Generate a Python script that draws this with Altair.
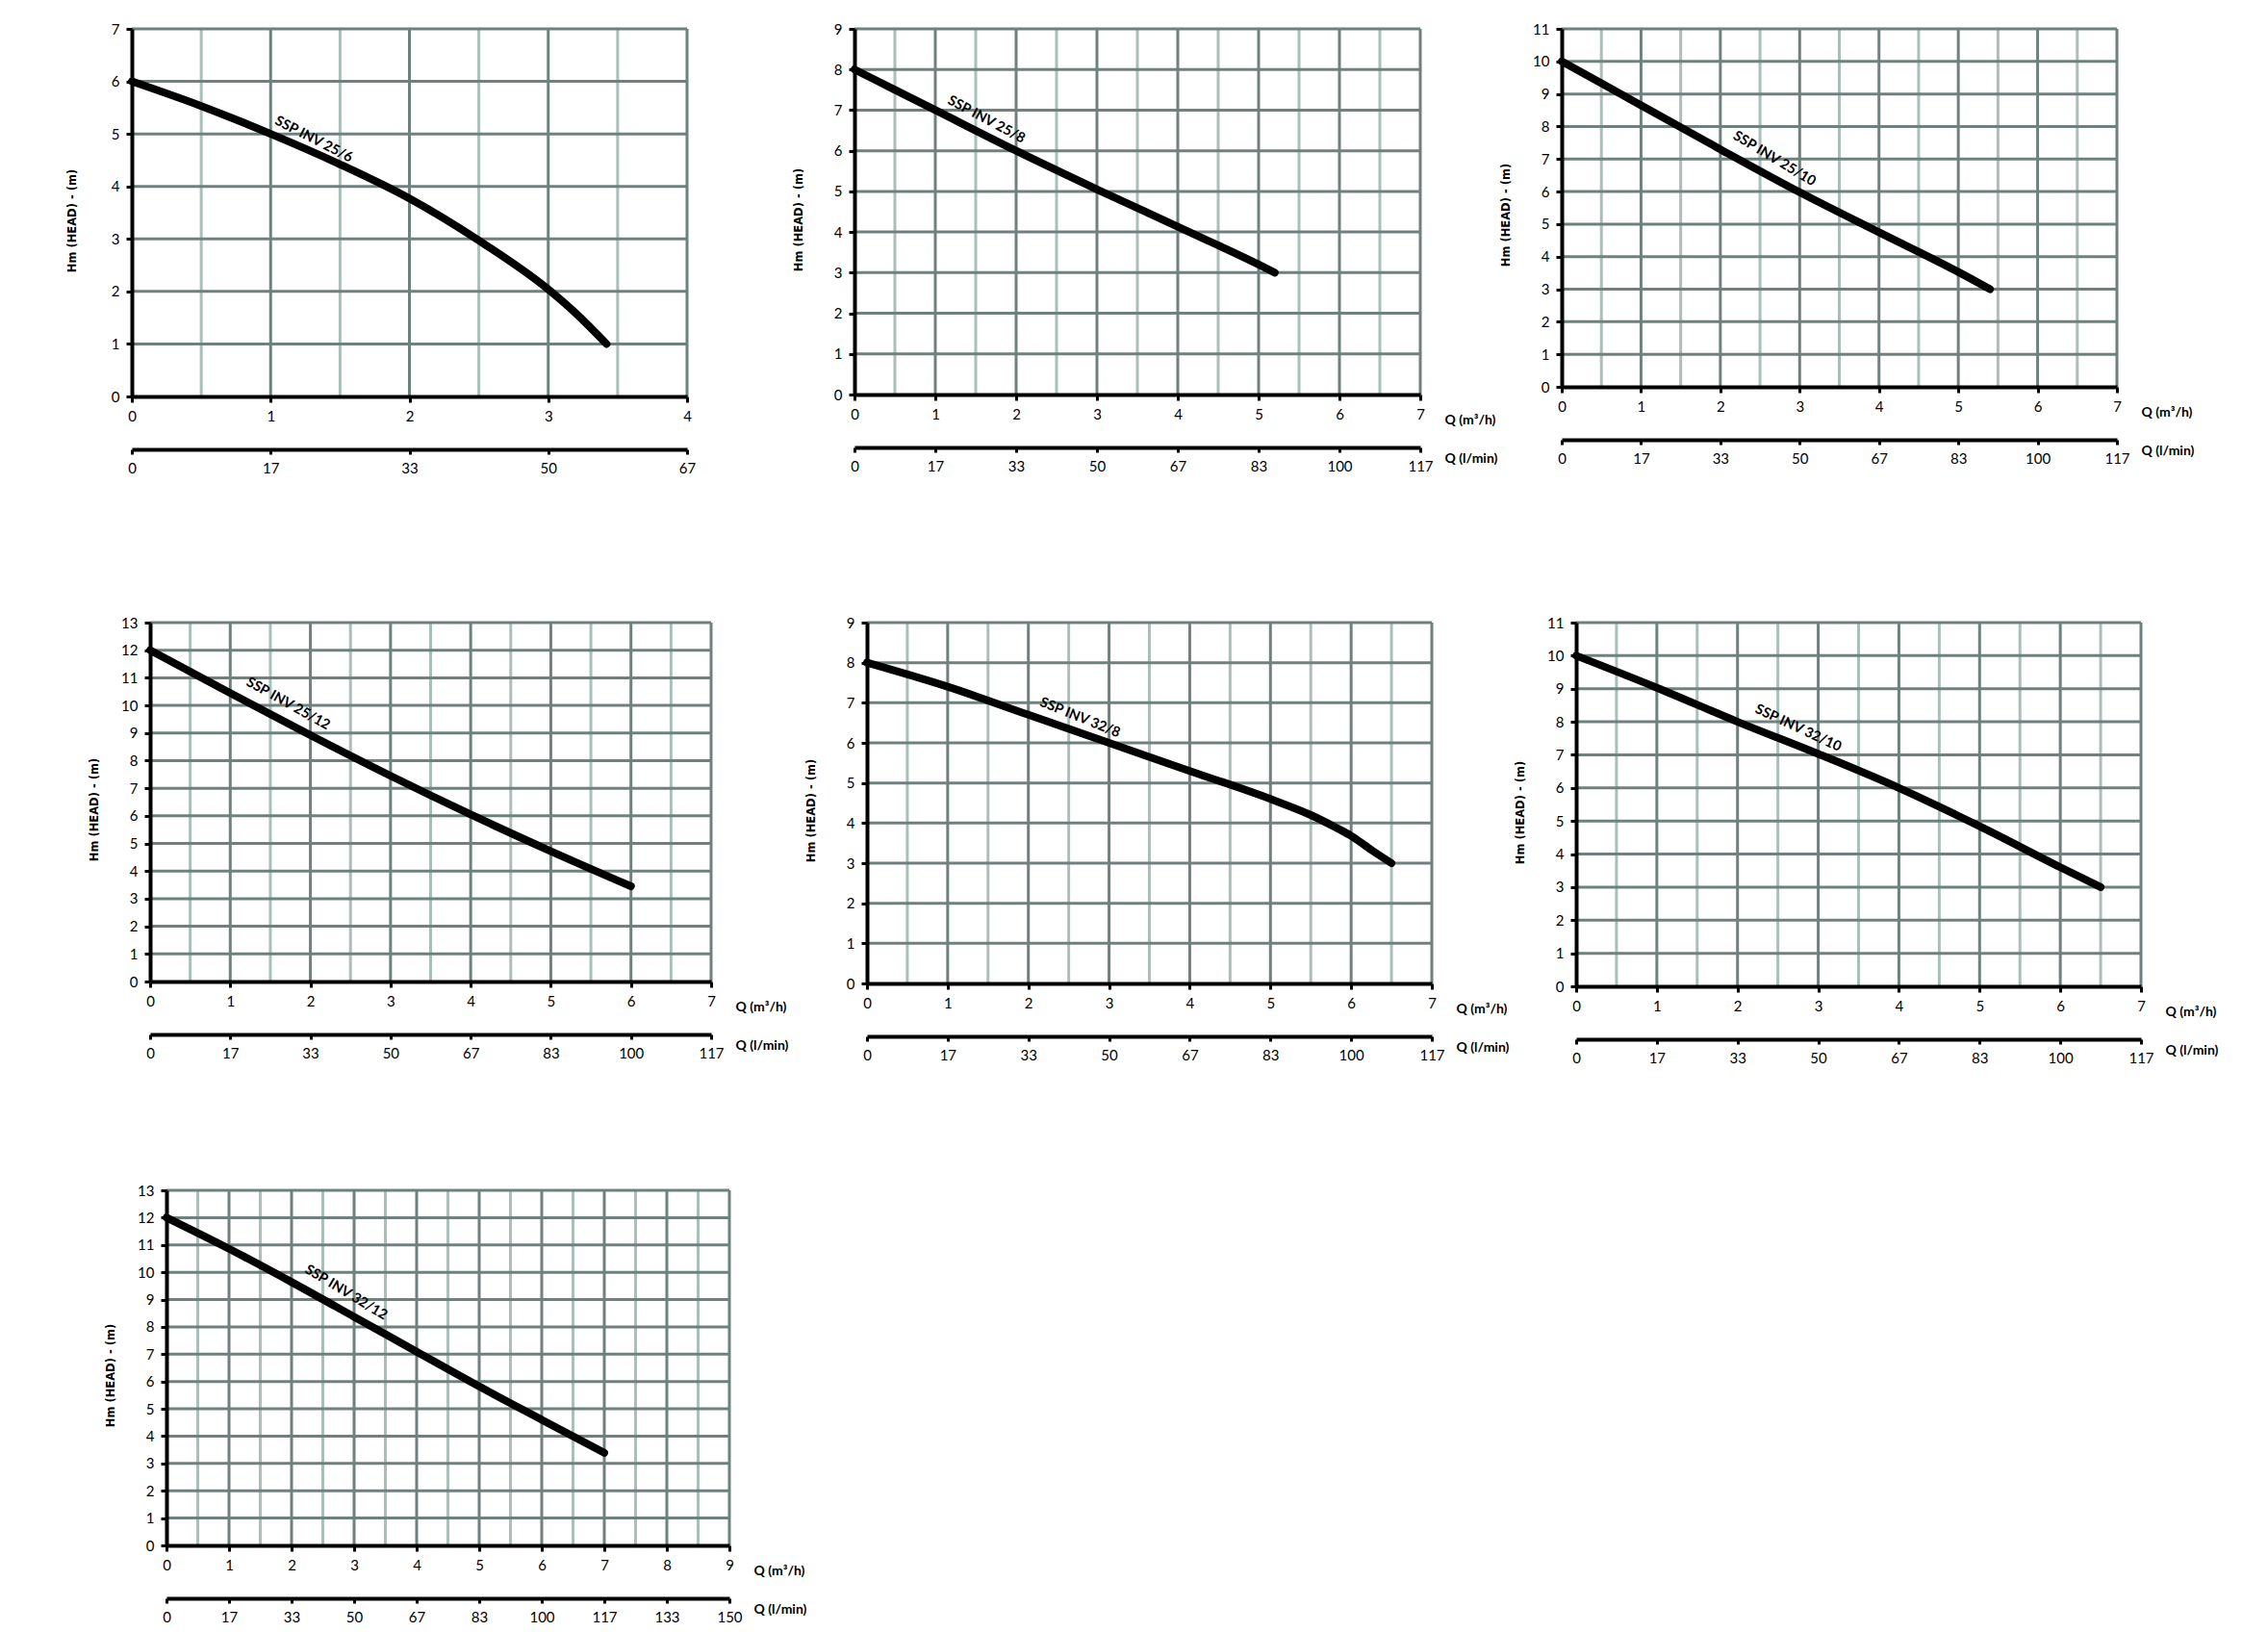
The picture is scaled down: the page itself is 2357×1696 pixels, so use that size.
import altair as alt
import pandas as pd

# ---------------- data ----------------
names = ["SSP INV 25/6", "SSP INV 25/8", "SSP INV 25/10", "SSP INV 25/12",
         "SSP INV 32/8", "SSP INV 32/10", "SSP INV 32/12"]
x_max = [4, 7, 7, 7, 7, 7, 9]          # Q (m3/h) axis end
y_max = [7, 9, 11, 13, 9, 11, 13]      # Hm axis end

q_25_6 = [0, 0.5, 1, 1.5, 2, 2.5, 3, 3.2, 3.42]
h_25_6 = [6.0, 5.53, 5.0, 4.42, 3.77, 2.97, 2.04, 1.58, 1.0]

q_25_8 = [0, 0.5, 1, 2, 3, 4, 5, 5.2]
h_25_8 = [8.0, 7.5, 7.0, 6.0, 5.05, 4.13, 3.2, 3.0]

q_25_10 = [0, 0.5, 1, 2, 3, 4, 5, 5.4]
h_25_10 = [10.0, 9.33, 8.65, 7.3, 5.98, 4.75, 3.53, 3.0]

q_25_12 = [0, 1, 2, 3, 4, 5, 6.0]
h_25_12 = [12.0, 10.45, 8.92, 7.45, 6.05, 4.72, 3.45]

q_32_8 = [0, 1, 2, 3, 4, 5, 5.5, 5.8, 6, 6.25, 6.5]
h_32_8 = [8.0, 7.4, 6.7, 6.0, 5.3, 4.6, 4.2, 3.9, 3.68, 3.33, 3.0]

q_32_10 = [0, 1, 2, 3, 4, 5, 6, 6.5]
h_32_10 = [10.0, 9.03, 8.0, 7.03, 6.0, 4.84, 3.6, 3.0]

q_32_12 = [0, 1, 2, 3, 4, 5, 6, 7]
h_32_12 = [12.0, 10.86, 9.64, 8.37, 7.09, 5.82, 4.6, 3.39]

curves_q = [q_25_6, q_25_8, q_25_10, q_25_12, q_32_8, q_32_10, q_32_12]
curves_h = [h_25_6, h_25_8, h_25_10, h_25_12, h_32_8, h_32_10, h_32_12]

label_q = [1.31, 1.63, 2.68, 1.72, 2.64, 2.75, 2.87]
label_h = [4.89, 6.76, 7.0, 10.05, 6.62, 7.8, 9.25]
label_angle = [27, 28, 31, 29, 22, 25, 31]
show_q_title = [False, True, True, True, True, True, True]

y_title = "Hm (HEAD) - (m)"
x_title = "Q (m³/h)"
x2_title = "Q (l/min)"

# ---------------- style ----------------
DARK = "#6f817e"
LIGHT = "#a9bfba"
FONT = "Lato, 'Open Sans', sans-serif"
TFONT = "'DejaVu Sans', Verdana, sans-serif"

# plot-area sizes (w, h)
sizes = [(577, 382), (588, 380), (577, 372), (583, 373), (587, 375), (587, 378), (585, 369)]


def spacer(w, h):
    return alt.Chart(pd.DataFrame({"s": [0]})).mark_point(opacity=0, size=1, clip=True).encode(
        x=alt.X("s:Q", axis=None), y=alt.Y("s:Q", axis=None)
    ).properties(width=w, height=h)


def panel(i):
    w, h = sizes[i]
    xm, ym = x_max[i], y_max[i]
    qt = show_q_title[i]
    xscale = alt.Scale(domain=[0, xm], nice=False, zero=True)
    yscale = alt.Scale(domain=[0, ym], nice=False, zero=True)
    common = dict(domainColor="black", domainWidth=4, tickColor="black", tickWidth=3,
                  labelFont=FONT, labelFontSize=15, labelColor="black",
                  labelFlush=False, labelOverlap=False, grid=False, zindex=1)
    xaxis = alt.Axis(orient="bottom", values=list(range(xm + 1)), format="d",
                     tickSize=6, labelPadding=7,
                     title=x_title if qt else None, titleAngle=0, titleAlign="left",
                     titleBaseline="middle", titleX=w + 25, titleY=26, titleFont=FONT,
                     titleFontSize=14, titleFontWeight="bold", titleColor="black", **common)
    yaxis = alt.Axis(orient="left", values=list(range(ym + 1)), format="d",
                     tickSize=6, labelPadding=7,
                     title=y_title, titleAngle=270, titleAlign="center", titleBaseline="middle",
                     titleX=-62 if i == 0 else -58, titleY=round(h * 0.52), titleFont=TFONT,
                     titleFontSize=11.5, titleFontWeight="bold", titleColor="black", **common)
    sec_vals = [k * 1000 / 60 for k in range(xm + 1)]
    secaxis = alt.Axis(orient="bottom", values=sec_vals, format=".0f", offset=55,
                       tickSize=5, labelPadding=7,
                       title=x2_title if qt else None, titleAngle=0, titleAlign="left",
                       titleBaseline="middle", titleX=w + 25, titleY=11, titleFont=FONT,
                       titleFontSize=14, titleFontWeight="bold", titleColor="black", **common)

    X = lambda f: alt.X(f, scale=xscale, axis=xaxis)
    Y = lambda f: alt.Y(f, scale=yscale, axis=yaxis)

    light_df = pd.DataFrame({"g": [k + 0.5 for k in range(xm)]})
    darkv_df = pd.DataFrame({"g": list(range(1, xm + 1))})
    darkh_df = pd.DataFrame({"g": list(range(1, ym + 1))})
    curve_df = pd.DataFrame({"q": curves_q[i], "h": curves_h[i]})
    lab_df = pd.DataFrame({"q": [label_q[i]], "h": [label_h[i]], "t": [names[i]]})
    sec_df = pd.DataFrame({"l": [0, xm * 1000 / 60]})

    light = alt.Chart(light_df).mark_rule(color=LIGHT, strokeWidth=3).encode(x=X("g:Q"))
    darkv = alt.Chart(darkv_df).mark_rule(color=DARK, strokeWidth=3).encode(x=X("g:Q"))
    darkh = alt.Chart(darkh_df).mark_rule(color=DARK, strokeWidth=3).encode(y=Y("g:Q"))
    curve = alt.Chart(curve_df).mark_line(color="black", strokeWidth=8, strokeCap="round",
                                          interpolate="monotone").encode(x=X("q:Q"), y=Y("h:Q"))
    label = alt.Chart(lab_df).mark_text(angle=label_angle[i], font=FONT, fontSize=14.5,
                                        fontWeight="bold", align="center", baseline="middle",
                                        color="black").encode(x=X("q:Q"), y=Y("h:Q"), text="t:N")
    inner = alt.layer(light, darkv, darkh, curve, label)
    sec = alt.Chart(sec_df).mark_point(opacity=0, size=1).encode(
        x=alt.X("l:Q", scale=alt.Scale(domain=[0, xm * 1000 / 60], nice=False, zero=True),
                axis=secaxis))
    return alt.layer(inner, sec).resolve_scale(x="independent").properties(width=w, height=h)


# each row: tall left spacer fixes the row's height; panels placed by flush widths
row1 = alt.hconcat(spacer(129, 610), panel(0), spacer(174, 1), panel(1), spacer(147, 1), panel(2),
                   spacing=0, bounds="flush")
row2 = alt.hconcat(spacer(148, 583), panel(3), spacer(162, 1), panel(4), spacer(150, 1), panel(5),
                   spacing=0, bounds="flush")
row3 = alt.hconcat(spacer(165, 440), panel(6), spacing=0, bounds="flush")

chart = alt.vconcat(row1, row2, row3, spacing=0, bounds="full").properties(
    padding={"left": 0, "top": 15, "right": 0, "bottom": 0}).configure_view(stroke=None)

chart.save("out.html", embed_options={"renderer": "svg", "actions": False})
